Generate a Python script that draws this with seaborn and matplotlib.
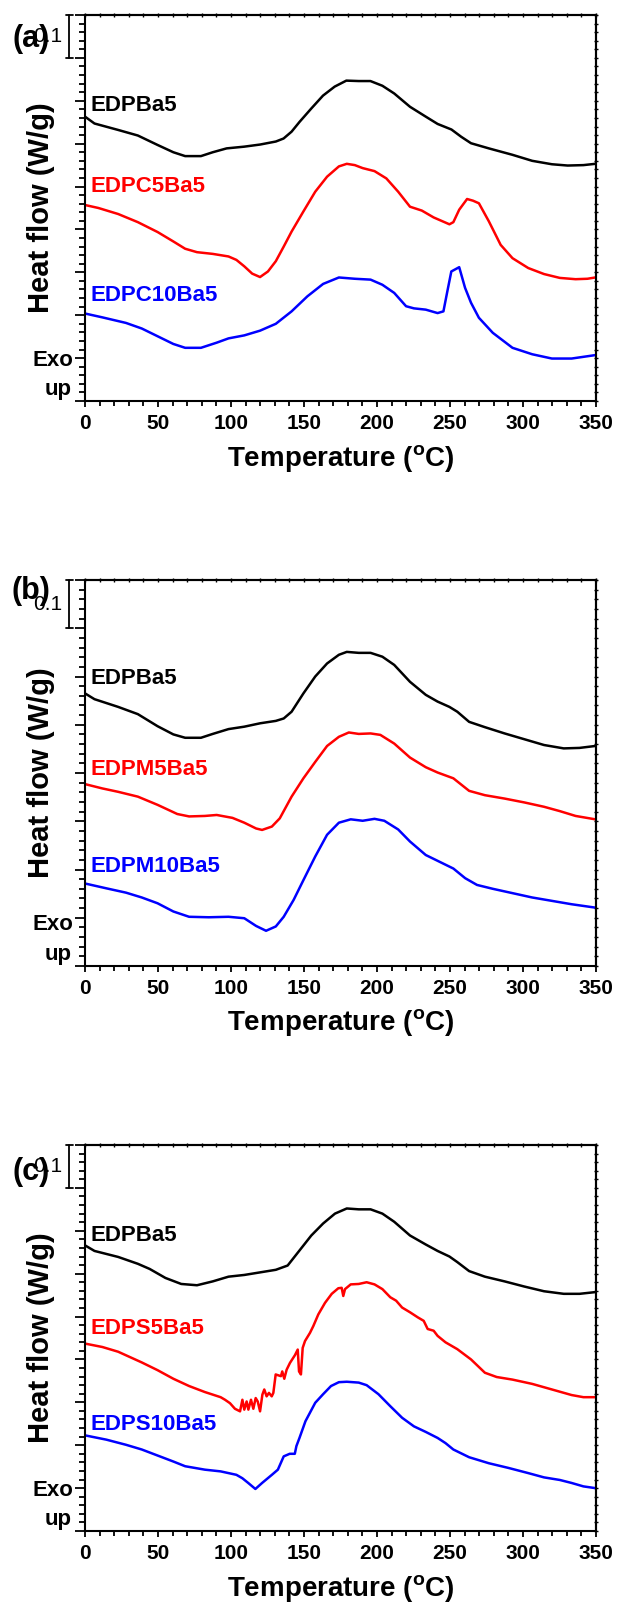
import numpy as np
import pandas as pd
import matplotlib
matplotlib.use("Agg")
import matplotlib.pyplot as plt
import seaborn as sns
from matplotlib import transforms
from matplotlib.ticker import MultipleLocator, NullFormatter

# ---------------- data (Temperature in degC, heat flow in W/g, offset) ----------------
T_a_black = [0, 6.5, 22.7, 36.2, 49.7, 60.5, 68.6, 79.4, 87.5, 97, 109, 120, 130.7, 136, 141.5,
             147, 155, 163, 171, 179, 187.5, 195.5, 203.7, 211.8, 222.6, 233.4, 241.5, 251, 257.7,
             264.4, 276.6, 292.8, 306.3, 319.8, 330.6, 341.4, 349.5]
v_a_black = [0.663, 0.647, 0.632, 0.619, 0.597, 0.580, 0.571, 0.571, 0.580, 0.589, 0.593, 0.598,
             0.605, 0.612, 0.628, 0.651, 0.682, 0.712, 0.733, 0.747, 0.746, 0.746, 0.735, 0.717,
             0.686, 0.663, 0.646, 0.633, 0.616, 0.601, 0.589, 0.574, 0.560, 0.552, 0.549, 0.550, 0.553]

T_a_red = [0, 9.2, 22.7, 36.2, 49.7, 60.5, 68.6, 76.7, 87.5, 98.3, 103.7, 109.1, 114.5, 119.9,
           125.3, 130.7, 136.1, 141.5, 149.6, 157.7, 165.8, 173.9, 179.3, 184.8, 190.2, 198.3,
           206.4, 214.5, 222.6, 230.7, 238.8, 249.6, 252.3, 256.3, 261.7, 265.8, 269.8, 276.6,
           284.7, 292.8, 303.6, 314.4, 325.2, 336, 344.1, 349.5]
v_a_red = [0.457, 0.450, 0.436, 0.417, 0.394, 0.372, 0.355, 0.347, 0.343, 0.337, 0.329, 0.314,
           0.297, 0.289, 0.302, 0.326, 0.360, 0.395, 0.442, 0.488, 0.523, 0.547, 0.553, 0.550,
           0.543, 0.536, 0.519, 0.488, 0.453, 0.444, 0.428, 0.412, 0.417, 0.446, 0.471, 0.467,
           0.461, 0.419, 0.364, 0.333, 0.310, 0.296, 0.287, 0.284, 0.285, 0.288]

T_a_blue = [0, 11.9, 28.1, 38.9, 49.7, 60.5, 68.6, 79.4, 90.2, 98.3, 109.1, 119.9, 130.7, 141.5,
            152.3, 163.1, 173.9, 184.8, 195.6, 203.7, 211.8, 219.9, 225.3, 233.4, 241.5, 245.5,
            248.2, 250.9, 256.3, 260.3, 264.4, 269.8, 279.3, 292.8, 306.3, 319.8, 333.3, 349.5]
v_a_blue = [0.204, 0.195, 0.182, 0.169, 0.151, 0.133, 0.124, 0.124, 0.136, 0.146, 0.153, 0.164,
            0.180, 0.209, 0.244, 0.273, 0.288, 0.285, 0.283, 0.271, 0.252, 0.221, 0.216, 0.213,
            0.205, 0.209, 0.256, 0.302, 0.312, 0.264, 0.229, 0.194, 0.159, 0.124, 0.109, 0.099,
            0.099, 0.107]

T_b_black = [0, 6.5, 22.7, 36.2, 49.7, 60.5, 68.6, 79.4, 87.5, 98.3, 109.1, 119.9, 130.7, 136.1,
             141.5, 149.6, 157.7, 165.8, 173.9, 179.3, 187.5, 195.6, 203.7, 211.8, 222.6, 233.4,
             241.5, 249.6, 255, 263.1, 273.9, 287.4, 300.9, 314.4, 327.9, 338.7, 349.5]
v_b_black = [0.565, 0.553, 0.537, 0.522, 0.497, 0.480, 0.473, 0.473, 0.481, 0.491, 0.496, 0.503,
             0.508, 0.513, 0.527, 0.565, 0.600, 0.627, 0.645, 0.651, 0.649, 0.649, 0.641, 0.624,
             0.589, 0.562, 0.548, 0.537, 0.527, 0.506, 0.495, 0.482, 0.470, 0.458, 0.451, 0.452, 0.456]

T_b_red = [0, 11.9, 22.7, 36.2, 49.7, 63.2, 71.3, 82.1, 90.2, 101, 109.1, 117.2, 121.3, 128,
           133.4, 141.5, 149.6, 157.7, 165.8, 173.9, 180.7, 187.5, 195.6, 202.3, 211.8, 222.6,
           233.4, 241.5, 252.3, 263.1, 273.9, 287.4, 300.9, 314.4, 325.2, 336, 349.5]
v_b_red = [0.377, 0.368, 0.361, 0.351, 0.334, 0.315, 0.310, 0.311, 0.313, 0.307, 0.297, 0.285,
           0.282, 0.289, 0.306, 0.351, 0.389, 0.423, 0.456, 0.475, 0.484, 0.481, 0.482, 0.479,
           0.461, 0.432, 0.412, 0.401, 0.389, 0.363, 0.354, 0.347, 0.339, 0.330, 0.321, 0.311, 0.304]

T_b_blue = [0, 14.6, 28.1, 38.9, 49.7, 60.5, 71.3, 84.8, 98.3, 109.1, 117.2, 124, 130.7, 136.1,
            142.9, 149.6, 157.7, 165.8, 173.9, 182, 190.2, 198.3, 205, 214.5, 222.6, 233.4,
            241.5, 252.3, 260.4, 268.5, 279.3, 292.8, 306.3, 319.8, 333.3, 349.5]
v_b_blue = [0.171, 0.161, 0.152, 0.142, 0.130, 0.113, 0.102, 0.101, 0.102, 0.099, 0.083, 0.073,
            0.082, 0.102, 0.137, 0.178, 0.227, 0.272, 0.297, 0.304, 0.301, 0.305, 0.301, 0.283,
            0.258, 0.230, 0.218, 0.202, 0.182, 0.168, 0.160, 0.151, 0.142, 0.135, 0.128, 0.121]

T_c_black = [0, 6.5, 22.7, 36.2, 44.3, 55.1, 65.9, 76.7, 87.5, 98.3, 109.1, 119.9, 130.7, 138.8,
             146.9, 155, 163.1, 171.2, 179.3, 187.5, 195.6, 203.7, 211.8, 222.6, 233.4, 241.5,
             249.6, 255, 263.1, 273.9, 287.4, 300.9, 314.4, 327.9, 338.7, 349.5]
v_c_black = [0.666, 0.653, 0.639, 0.623, 0.611, 0.590, 0.576, 0.573, 0.582, 0.593, 0.597, 0.603,
             0.609, 0.619, 0.654, 0.689, 0.717, 0.740, 0.752, 0.750, 0.750, 0.740, 0.721, 0.689,
             0.668, 0.653, 0.640, 0.627, 0.606, 0.593, 0.582, 0.570, 0.559, 0.553, 0.553, 0.557]

T_c_red = [0, 11.9, 22.7, 38.9, 49.7, 60.5, 71.3, 82.1, 92.9,
           95.9, 99.3, 102.7, 106.2, 107.8, 109.1, 110.7, 111.9, 113.7, 115.3,
           116.9, 118.3, 119.9, 121.5, 122.8, 124.4, 126.0, 127.9, 129.0, 130.6,
           132.4, 134.2, 135.1, 136.5, 138.1, 140.4, 143.8, 145.7, 146.6, 147.9,
           149.1, 150.7, 154.1, 156.4, 159.8, 164.4, 169.0, 173.5, 175.8, 176.9, 178.1,
           182, 187.5, 192.9, 198.3, 203.7, 209.1, 213.1, 217.2, 222.6, 228,
           232, 234.7, 238.8, 241.5, 246.9, 255, 264.4, 273.9, 282, 292.8,
           306.3, 319.8, 333.3, 341.4, 349.5]
v_c_red = [0.437, 0.429, 0.418, 0.393, 0.375, 0.355, 0.338, 0.324, 0.312,
           0.306, 0.298, 0.285, 0.279, 0.306, 0.283, 0.302, 0.283, 0.306, 0.285,
           0.310, 0.302, 0.279, 0.318, 0.330, 0.314, 0.322, 0.314, 0.322, 0.365,
           0.363, 0.361, 0.372, 0.355, 0.376, 0.392, 0.410, 0.423, 0.372, 0.365,
           0.427, 0.443, 0.462, 0.478, 0.505, 0.532, 0.553, 0.566, 0.567, 0.548, 0.564,
           0.575, 0.576, 0.580, 0.575, 0.564, 0.545, 0.537, 0.521, 0.510, 0.498,
           0.490, 0.471, 0.467, 0.455, 0.440, 0.424, 0.400, 0.369, 0.359, 0.353,
           0.343, 0.330, 0.317, 0.312, 0.312]

T_c_blue = [0, 14.6, 28.1, 38.9, 49.7, 60.5, 68.6, 82.1, 92.9, 103.7, 107.8, 111.8, 116.7, 121.3,
            128, 132.1, 136.1, 140.2, 143.7, 144.8, 146.9, 151, 157.7, 163.1, 168.5, 173.9,
            179.3, 187.5, 192.9, 201, 209.1, 217.2, 225.3, 233.4, 241.5, 246.9, 252.3, 263.1,
            276.6, 290.1, 303.6, 314.4, 325.2, 333.3, 341.4, 349.5]
v_c_blue = [0.223, 0.213, 0.201, 0.190, 0.176, 0.162, 0.151, 0.143, 0.139, 0.131, 0.123, 0.112,
            0.098, 0.112, 0.131, 0.143, 0.174, 0.180, 0.180, 0.198, 0.217, 0.256, 0.299, 0.319,
            0.338, 0.347, 0.348, 0.346, 0.340, 0.319, 0.291, 0.264, 0.244, 0.231, 0.217, 0.205,
            0.190, 0.172, 0.158, 0.147, 0.135, 0.125, 0.119, 0.112, 0.104, 0.100]

names_a = ["EDPBa5", "EDPC5Ba5", "EDPC10Ba5"]
names_b = ["EDPBa5", "EDPM5Ba5", "EDPM10Ba5"]
names_c = ["EDPBa5", "EDPS5Ba5", "EDPS10Ba5"]
label_y_a = [0.688, 0.500, 0.247]
label_y_b = [0.596, 0.408, 0.206]
label_y_c = [0.689, 0.471, 0.248]
panel_tags = ["(a)", "(b)", "(c)"]
y_tops = [0.9, 0.8, 0.9]
scale_bar_value = 0.1
x_ticks = [0, 50, 100, 150, 200, 250, 300, 350]
colors = ["black", "#ff0000", "#0000ff"]

# ---------------- style ----------------
sns.set_theme(style="ticks")
plt.rcParams["font.family"] = ["Liberation Sans", "DejaVu Sans"]
plt.rcParams["mathtext.fontset"] = "custom"
plt.rcParams["mathtext.rm"] = "Liberation Sans"
plt.rcParams["mathtext.bf"] = "Liberation Sans:bold"
for key in ["text.color", "axes.labelcolor", "xtick.color", "ytick.color", "axes.edgecolor"]:
    plt.rcParams[key] = "black"

W, H = 617, 1605
fig = plt.figure(figsize=(W / 100, H / 100), dpi=100)
fig.patch.set_facecolor("white")

def fx(px):
    return px / W

def fy(py):
    return 1 - py / H

panels = [
    (15, [(T_a_black, v_a_black), (T_a_red, v_a_red), (T_a_blue, v_a_blue)], names_a, label_y_a),
    (580, [(T_b_black, v_b_black), (T_b_red, v_b_red), (T_b_blue, v_b_blue)], names_b, label_y_b),
    (1145, [(T_c_black, v_c_black), (T_c_red, v_c_red), (T_c_blue, v_c_blue)], names_c, label_y_c),
]
tag_y = [39, 591, 1172]

ax_left, ax_right, ax_h = 85, 596, 386

for i, (top, series, names, label_ys) in enumerate(panels):
    bottom = top + ax_h
    ax = fig.add_axes([fx(ax_left), fy(bottom), (ax_right - ax_left) / W, ax_h / H])
    ax.set_facecolor("white")
    for (T, v), c in zip(series, colors):
        df = pd.DataFrame({"T": T, "v": v})
        sns.lineplot(data=df, x="T", y="v", color=c, lw=1.8, ax=ax,
                     estimator=None, sort=False, legend=False)
    for name, ly, c in zip(names, label_ys, colors):
        ax.text(3.5, ly, name, color=c, fontsize=16, fontweight="bold",
                ha="left", va="center")

    ymax = y_tops[i]
    ax.set_xlim(0, 350)
    ax.set_ylim(0, ymax)
    ax.set_xticks(x_ticks)
    ax.xaxis.set_minor_locator(MultipleLocator(10))
    ax.yaxis.set_major_locator(MultipleLocator(0.1))
    ax.yaxis.set_minor_locator(MultipleLocator(0.02))
    ax.yaxis.set_major_formatter(NullFormatter())
    for s in ax.spines.values():
        s.set_linewidth(1.5)
        s.set_color("black")
        s.set_visible(True)
    ax.tick_params(axis="x", which="major", direction="out", length=4.5, width=1.3,
                   labelsize=15, pad=5, colors="black")
    ax.tick_params(axis="x", which="minor", direction="out", length=3.5, width=1.3)
    ax.tick_params(axis="y", which="major", direction="out", length=7, width=1.3)
    ax.tick_params(axis="y", which="minor", direction="out", length=4, width=1.3)
    for lab in ax.get_xticklabels():
        lab.set_fontweight("bold")

    # mirrored small ticks on top and right
    sx = ax.secondary_xaxis("top")
    sx.set_xticks(x_ticks)
    sx.xaxis.set_minor_locator(MultipleLocator(10))
    sx.tick_params(which="both", direction="inout", length=3, width=1.0, labeltop=False)
    sx.spines["top"].set_linewidth(1.5)
    sy = ax.secondary_yaxis("right")
    sy.yaxis.set_major_locator(MultipleLocator(0.1))
    sy.yaxis.set_minor_locator(MultipleLocator(0.02))
    sy.tick_params(which="both", direction="inout", length=3, width=1.0, labelright=False)
    sy.spines["right"].set_linewidth(1.5)

    ax.set_xlabel(r"Temperature ($\mathbf{^{o}}$C)", fontsize=20, fontweight="bold", va="center")
    ax.xaxis.set_label_coords(0.5, -57 / ax_h)
    ax.set_ylabel("Heat flow (W/g)", fontsize=21, fontweight="bold", va="center")
    ax.yaxis.set_label_coords(-(ax_left - 41) / (ax_right - ax_left), 0.5)

    # scale bar (0.1 W/g) outside the left spine
    trans = transforms.blended_transform_factory(fig.transFigure, ax.transData)
    y0, y1 = ymax - scale_bar_value, ymax
    ax.plot([fx(69), fx(69)], [y0, y1], color="black", lw=1.3, transform=trans, clip_on=False)
    for yy in (y0, y1):
        ax.plot([fx(65.5), fx(72.5)], [yy, yy], color="black", lw=1.3,
                transform=trans, clip_on=False)
    ax.text(fx(62.5), (y0 + y1) / 2, str(scale_bar_value), transform=trans,
            ha="right", va="center", fontsize=15)
    ax.set_xlim(0, 350)
    ax.set_ylim(0, ymax)

    # Exo up
    fig.text(fx(73), fy(bottom - 41), "Exo", ha="right", va="center",
             fontsize=16, fontweight="bold")
    fig.text(fx(72), fy(bottom - 11), "up", ha="right", va="center",
             fontsize=16, fontweight="bold")
    # panel tag
    fig.text(fx(31), fy(tag_y[i]), panel_tags[i], ha="center", va="center",
             fontsize=22, fontweight="bold")

fig.savefig("out.png", dpi=100, facecolor="white")
